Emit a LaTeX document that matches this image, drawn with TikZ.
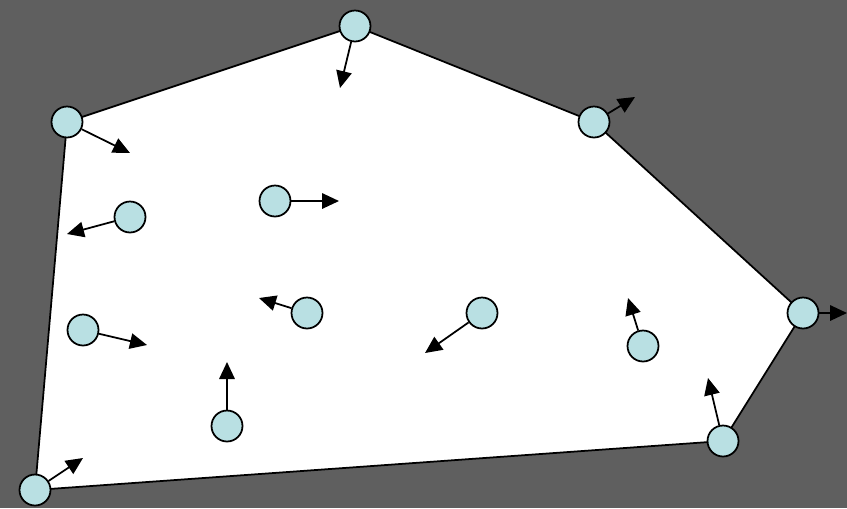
\documentclass[tikz,border=0pt]{standalone}
\usetikzlibrary{arrows.meta}
\definecolor{bggray}{HTML}{5F5F5F}
\definecolor{dotblue}{HTML}{B9E0E3}

\begin{document}
\begin{tikzpicture}[x=0.02cm, y=-0.02cm,
		dot/.style={draw, circle, fill=dotblue, line width=1pt, minimum size=0.62cm, inner sep=0pt},
		push/.style={-{Triangle[length=0.34cm, width=0.31cm]}, line width=1pt}]
	\useasboundingbox (0,0) rectangle (847,508);
	\fill[bggray] (0,0) rectangle (847,508);
	% hull
	\coordinate (pa) at (67,122);
	\coordinate (pb) at (355,26);
	\coordinate (pc) at (594,122);
	\coordinate (pd) at (803,313);
	\coordinate (pe) at (723,441);
	\coordinate (pf) at (35,490);
	\draw[fill=white, line width=1pt] (pa) -- (pb) -- (pc) -- (pd) -- (pe) -- (pf) -- cycle;
	% points on the hull
	\node[dot] (a) at (pa) {};
	\node[dot] (b) at (pb) {};
	\node[dot] (c) at (pc) {};
	\node[dot] (d) at (pd) {};
	\node[dot] (e) at (pe) {};
	\node[dot] (f) at (pf) {};
	% points inside
	\node[dot] (g) at (130,217) {};
	\node[dot] (h) at (275,201) {};
	\node[dot] (i) at (83,330) {};
	\node[dot] (j) at (307,313) {};
	\node[dot] (k) at (227,426) {};
	\node[dot] (l) at (482,313) {};
	\node[dot] (m) at (643,346) {};
	% where the arrows point
	\coordinate (ta) at (130,153);
	\coordinate (tb) at (340,88);
	\coordinate (tc) at (635,97);
	\coordinate (td) at (847,313);
	\coordinate (te) at (708,378);
	\coordinate (tf) at (83,458);
	\coordinate (tg) at (67,234);
	\coordinate (th) at (339,201);
	\coordinate (ti) at (147,345);
	\coordinate (tj) at (259,298);
	\coordinate (tk) at (227,362);
	\coordinate (tl) at (425,353);
	\coordinate (tm) at (628,298);
	\foreach \p in {a,b,c,d,e,f,g,h,i,j,k,l,m}
		\draw[push] (\p) -- (t\p);
\end{tikzpicture}
\end{document}
